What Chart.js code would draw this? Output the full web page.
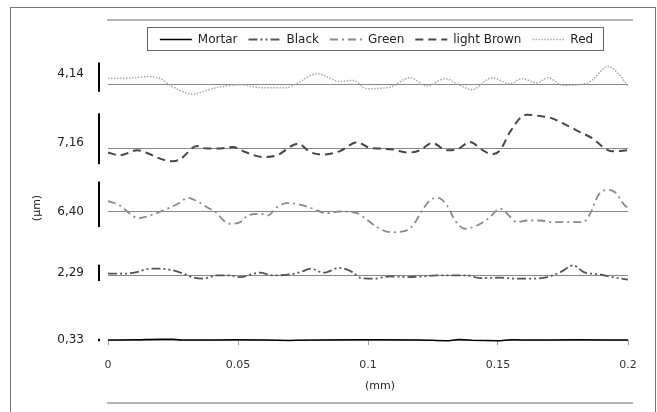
<!DOCTYPE html>
<html><head><meta charset="utf-8">
<script src="https://cdn.jsdelivr.net/npm/chart.js@4.4.1/dist/chart.umd.min.js"></script>
<style>html,body{margin:0;padding:0;background:#fff;}canvas{display:block;}</style>
</head><body>
<canvas id="c" width="657" height="412"></canvas>
<script>
// ---- data ----
const seriesNames = ['Mortar', 'Black', 'Green', 'light Brown', 'Red'];
const roughness = [0.33, 2.29, 6.40, 7.16, 4.14];
const yTickLabels = ['0,33', '2,29', '6,40', '7,16', '4,14'];
const xTickValues = [0, 0.05, 0.1, 0.15, 0.2];
const xTickLabels = ['0', '0.05', '0.1', '0.15', '0.2'];

const mortarX = [0, 0.01, 0.02, 0.025, 0.03, 0.05, 0.07, 0.08, 0.1, 0.12, 0.13, 0.135, 0.14, 0.15, 0.155, 0.16, 0.18, 0.2];
const mortarY = [0, 0.02, 0.12, 0.1, 0, 0.02, -0.06, 0, 0.02, 0, -0.1, 0.06, -0.04, -0.1, 0.05, 0, 0.03, 0];

const blackX = [0, 0.006, 0.011, 0.016, 0.02, 0.025, 0.029, 0.033, 0.0365, 0.042, 0.046, 0.051, 0.055, 0.0585, 0.0635, 0.07, 0.074, 0.078, 0.083, 0.089, 0.094, 0.097, 0.102, 0.1085, 0.115, 0.121, 0.1265, 0.1315, 0.138, 0.143, 0.151, 0.157, 0.1635, 0.169, 0.174, 0.179, 0.183, 0.189, 0.194, 0.2];
const blackY = [0.24, 0.24, 0.46, 0.94, 0.94, 0.7, 0.24, -0.32, -0.46, 0, 0, -0.24, 0.14, 0.38, 0, 0.14, 0.46, 0.94, 0.38, 1.05, 0.46, -0.35, -0.46, -0.14, -0.24, -0.14, 0, 0, 0, -0.38, -0.32, -0.46, -0.46, -0.24, 0.46, 1.41, 0.46, 0.14, -0.24, -0.6];

const greenX = [0, 0.0046, 0.0085, 0.0115, 0.0162, 0.0227, 0.0269, 0.0308, 0.0342, 0.0381, 0.0419, 0.0442, 0.0469, 0.0508, 0.0538, 0.0585, 0.0615, 0.065, 0.0688, 0.0738, 0.0788, 0.0842, 0.0892, 0.0958, 0.0996, 0.1035, 0.1085, 0.1135, 0.1173, 0.1208, 0.1238, 0.1269, 0.1304, 0.1335, 0.1373, 0.1419, 0.1462, 0.1508, 0.1535, 0.1573, 0.1612, 0.1662, 0.1712, 0.1777, 0.1827, 0.1854, 0.1885, 0.1919, 0.195, 0.1988, 0.2];
const greenY = [1.45, 0.84, -0.32, -0.94, -0.56, 0.38, 1.08, 1.93, 1.45, 0.6, -0.24, -1.17, -1.73, -1.5, -0.56, -0.32, -0.56, 0.6, 1.17, 0.98, 0.38, -0.24, 0, -0.24, -1.17, -2.2, -2.91, -2.81, -1.97, 0.14, 1.55, 1.93, 0.84, -1.27, -2.43, -1.97, -1.03, 0.38, -0.32, -1.5, -1.27, -1.27, -1.5, -1.5, -1.5, -0.32, 2.25, 3.05, 2.71, 0.84, 0.56];

const brownX = [0, 0.0046, 0.0112, 0.015, 0.02, 0.025, 0.0277, 0.0342, 0.0381, 0.0423, 0.0481, 0.0527, 0.0596, 0.065, 0.0731, 0.0777, 0.0827, 0.0892, 0.0958, 0.1008, 0.1046, 0.1096, 0.1154, 0.12, 0.1246, 0.1304, 0.1342, 0.1392, 0.1442, 0.1477, 0.1508, 0.1546, 0.1592, 0.1615, 0.1662, 0.17, 0.1765, 0.1815, 0.1865, 0.1904, 0.1938, 0.2];
const brownY = [-0.6, -0.98, -0.28, -0.66, -1.45, -1.83, -1.55, 0.32, -0.04, -0.04, 0.18, -0.52, -1.22, -0.98, 0.66, -0.52, -0.89, -0.4, 0.85, 0.04, -0.04, -0.18, -0.6, -0.28, 0.75, -0.28, -0.18, 0.89, -0.28, -0.84, -0.28, 2.29, 4.5, 4.74, 4.54, 4.32, 3.23, 2.29, 1.36, 0.18, -0.42, -0.28];

const redX = [0, 0.0085, 0.016, 0.02, 0.0246, 0.0327, 0.04, 0.0508, 0.0592, 0.0688, 0.072, 0.0804, 0.0892, 0.0942, 0.0996, 0.1085, 0.1162, 0.1227, 0.1296, 0.1354, 0.14, 0.1477, 0.1546, 0.1592, 0.165, 0.1692, 0.175, 0.1842, 0.1865, 0.1923, 0.1969, 0.2];
const redY = [0.84, 0.91, 1.1, 0.84, -0.28, -1.36, -0.6, -0.04, -0.46, -0.46, 0, 1.5, 0.42, 0.56, -0.6, -0.38, 0.94, -0.24, 0.8, -0.14, -0.75, 0.94, 0.1, 0.8, 0.24, 0.94, -0.14, 0.18, 0.7, 2.53, 1.27, -0.24];

// ---- layout / style (not data) ----
const baselines = [0, 9.1, 18.1, 27, 36];          // vertical offset of each profile
const labelAt = [0, 9.44, 18.03, 27.75, 37.46];     // where each tick label sits
const barTop = [0.17, 1.5, 4.23, 4.93, 3.1];        // top of each scale bar above its baseline
const styles = [
  { color: '#000000', width: 1.5, dash: [] },
  { color: '#555555', width: 1.8, dash: [9, 3, 2, 3, 2, 3] },
  { color: '#8a8a8a', width: 1.8, dash: [8, 4, 2, 4] },
  { color: '#474747', width: 2, dash: [8, 5] },
  { color: '#a8a8a8', width: 1.5, dash: [1.5, 1.5] }
];
const xs = [mortarX, blackX, greenX, brownX, redX];
const ys = [mortarY, blackY, greenY, brownY, redY];
const AREA_TOP = 56;

Chart.defaults.font.family = "'DejaVu Sans', sans-serif";

const decor = {
  id: 'decor',
  afterLayout(chart) {
    const lg = chart.legend;
    if (!lg) return;
    const pad = lg.options.labels.padding;
    const shift = 376.5 - (lg.left + lg.right) / 2;
    lg.left += shift; lg.right += shift;
    const h = lg.bottom - lg.top;
    lg.top = 39.5 - pad - 6;
    lg.bottom = lg.top + h;
  },
  beforeDraw(chart) {
    const c = chart.ctx;
    c.save();
    c.fillStyle = '#fff';
    c.fillRect(0, 0, chart.width, chart.height);
    c.strokeStyle = '#777';
    c.lineWidth = 1;
    c.strokeRect(10.5, 7.5, 645, 420);
    c.strokeStyle = '#b4b4b4';
    c.lineWidth = 2;
    c.beginPath();
    c.moveTo(107, 20); c.lineTo(633, 20);
    c.moveTo(107, 403); c.lineTo(633, 403);
    c.stroke();
    c.restore();
  },
  afterDatasetsDraw(chart) {
    const { x, y } = chart.scales;
    const c = chart.ctx;
    c.save();
    c.strokeStyle = '#000';
    c.lineWidth = 2;
    const px = Math.round(x.getPixelForValue(-0.0033));
    roughness.forEach((r, i) => {
      const t = baselines[i] + barTop[i];
      c.beginPath();
      c.moveTo(px, y.getPixelForValue(t));
      c.lineTo(px, y.getPixelForValue(t - r));
      c.stroke();
    });
    c.restore();
  },
  afterDraw(chart) {
    const c = chart.ctx;
    const lg = chart.legend;
    c.save();
    if (lg && lg.lineWidths) {
      const pad = lg.options.labels.padding;
      const x0 = (lg.left + pad + lg.right - lg.lineWidths[0]) / 2;
      const x1 = x0 + lg.lineWidths[0] - pad;
      c.strokeStyle = '#666';
      c.lineWidth = 1;
      c.strokeRect(Math.round(x0 - 13) + 0.5, 27.5, Math.round(x1 - x0 + 23), 23);
    }
    c.fillStyle = '#222';
    c.font = "11px 'DejaVu Sans'";
    c.textAlign = 'center';
    c.textBaseline = 'middle';
    c.fillText('(mm)', 380, 386);
    c.translate(37, 208);
    c.rotate(-Math.PI / 2);
    c.fillText('(\u03bcm)', 0, 0);
    c.restore();
  }
};

const chart = new Chart(document.getElementById('c'), {
  type: 'line',
  data: {
    datasets: seriesNames.map((name, i) => ({
      label: name,
      data: xs[i].map((xv, j) => ({ x: xv, y: ys[i][j] + baselines[i] })),
      borderColor: styles[i].color,
      backgroundColor: styles[i].color,
      borderWidth: styles[i].width,
      borderDash: styles[i].dash,
      pointRadius: 0,
      cubicInterpolationMode: 'monotone',
      fill: false,
      clip: false
    }))
  },
  options: {
    responsive: false,
    animation: false,
    events: [],
    layout: { padding: { top: 12, right: 29, bottom: 0, left: 0 } },
    plugins: {
      tooltip: { enabled: false },
      legend: {
        position: 'top',
        align: 'center',
        labels: {
          usePointStyle: true,
          pointStyle: 'line',
          pointStyleWidth: 32,
          padding: 11,
          color: '#222',
          font: { size: 12 },
          generateLabels: (ch) => {
            const items = Chart.defaults.plugins.legend.labels.generateLabels(ch);
            items.forEach((it) => {
              const ds = ch.data.datasets[it.datasetIndex];
              it.lineDash = ds.borderDash;
              it.lineWidth = ds.borderWidth;
              it.strokeStyle = ds.borderColor;
              it.fillStyle = ds.borderColor;
              it.pointStyle = 'line';
            });
            return items;
          }
        }
      }
    },
    scales: {
      x: {
        type: 'linear', min: 0, max: 0.2,
        afterBuildTicks: s => { s.ticks = xTickValues.map(v => ({ value: v })); },
        ticks: { callback: (v, i) => xTickLabels[i], color: '#333', font: { size: 11 }, padding: 14, maxRotation: 0, autoSkip: false },
        grid: { drawOnChartArea: false, drawTicks: true, tickLength: 5, color: '#999' },
        border: { display: true, color: '#999' },
        afterFit: s => { s.height = 72; }
      },
      y: {
        position: 'left', min: 0, max: 40,
        afterBuildTicks: s => { s.ticks = labelAt.map(v => ({ value: v })); },
        ticks: { callback: (v, i) => yTickLabels[i], color: '#222', font: { size: 12 }, padding: 24, autoSkip: false },
        grid: { display: false, drawTicks: false },
        border: { display: false },
        afterFit: s => { s.width = 108; }
      },
      y2: {
        position: 'left', min: 0, max: 40,
        afterBuildTicks: s => { s.ticks = baselines.map(v => ({ value: v })); },
        ticks: { display: false },
        grid: { color: '#888', drawTicks: false, lineWidth: 1 },
        border: { display: false },
        afterFit: s => { s.width = 0; }
      }
    }
  },
  plugins: [decor]
});
const diff = AREA_TOP - chart.chartArea.top;
if (Math.abs(diff) > 0.1) {
  chart.options.layout.padding.top += diff;
  chart.update();
}
</script>
</body></html>
